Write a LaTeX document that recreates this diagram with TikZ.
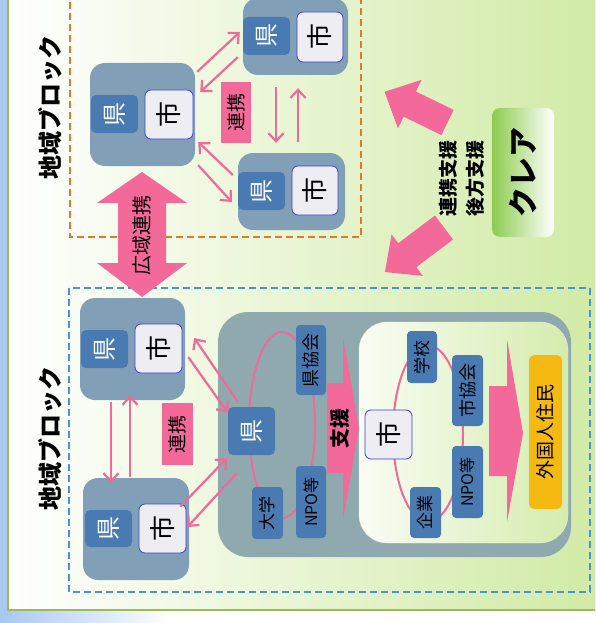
\documentclass[tikz,border=0pt]{standalone}
\usepackage{fontspec}
\usepackage{graphicx}
\newfontfamily\jp{Noto Sans CJK JP}
\usetikzlibrary{arrows.meta, shapes}
\definecolor{groupc}{HTML}{819FB7}
\definecolor{prefc}{HTML}{4A7AB2}
\definecolor{cityc}{HTML}{EDEDF2}
\definecolor{cityb}{HTML}{3F3FD8}
\definecolor{pinkc}{HTML}{F2699A}
\definecolor{linkc}{HTML}{F06A98}
\definecolor{bigg}{HTML}{8FA9AE}
\definecolor{orangec}{HTML}{E07A28}
\definecolor{bluec}{HTML}{4894DC}
\definecolor{residc}{HTML}{F5BA12}
\definecolor{panelg}{HTML}{D0EAA4}
\definecolor{frameg}{HTML}{9CBB58}
\definecolor{stripb}{HTML}{A8C8F0}
\definecolor{clairg}{HTML}{8DCB4F}
\newcommand{\vt}[1]{\rotatebox{90}{#1}}
\tikzset{
	every node/.style={inner sep=0pt,font=\jp},
	group/.style={shape=rectangle,fill=groupc,rounded corners=15pt},
	pref/.style={shape=rectangle,fill=prefc,rounded corners=5pt,text=white,font=\jp\fontsize{24}{24}\selectfont},
	city/.style={shape=rectangle,fill=cityc,draw=cityb,line width=0.8pt,rounded corners=6pt,font=\jp\fontsize{26}{26}\selectfont},
	tag/.style={shape=rectangle,fill=prefc,rounded corners=4pt,font=\jp\fontsize{17}{17}\selectfont},
	renkei/.style={shape=rectangle,fill=pinkc,minimum width=31pt,minimum height=62pt,font=\jp\fontsize{19}{19}\selectfont},
	blocklabel/.style={font=\jp\bfseries\fontsize{24}{24}\selectfont},
	ring/.style={draw=linkc,line width=2pt},
	fat/.style={fill=pinkc},
	blockline/.style={dash pattern=on 7pt off 4pt,line width=1.8pt},
}
\tikzstyle{link} = [draw=linkc,line width=2.2pt,-{Straight Barb[length=8pt,width=15pt]}]

\begin{document}
\begin{tikzpicture}[x=1pt,y=-1pt]
	\useasboundingbox (0,0) rectangle (595,623);
	\clip (0,0) rectangle (595,623);
	% background
	\fill[white] (0,0) rectangle (595,623);
	\shade[left color=stripb,right color=white] (0,600) rectangle (170,623);
	\fill[stripb] (0,0) rectangle (10,615);
	\shade[left color=white,right color=panelg,draw=frameg,line width=2pt] (8,-10) rectangle (610,610);
	\draw[blockline,draw=orangec] (70,-20) rectangle (361,237);
	\draw[blockline,draw=bluec] (69,288) rectangle (590,592);
	\node[blocklabel] (titleA) at (50,107) {\vt{地域ブロック}};
	\node[blocklabel] (titleB) at (50,438) {\vt{地域ブロック}};
	
	% upper block
	\node[group,minimum width=105pt,minimum height=103pt] (gA) at (142.5,114.5) {};
	\node[pref,minimum width=47pt,minimum height=38pt] (kA) at (114.5,114) {\vt{県}};
	\node[city,minimum width=48pt,minimum height=49pt] (cA) at (169,114.5) {\vt{市}};
	\node[group,minimum width=105pt,minimum height=77pt] (gB) at (295.5,36.5) {};
	\node[pref,minimum width=47pt,minimum height=38pt] (kB) at (266.5,36) {\vt{県}};
	\node[city,minimum width=46pt,minimum height=50pt] (cB) at (320,37) {\vt{市}};
	\node[group,minimum width=107pt,minimum height=77pt] (gC) at (291.5,191.5) {};
	\node[pref,minimum width=47pt,minimum height=38pt] (kC) at (261.5,191) {\vt{県}};
	\node[city,minimum width=46pt,minimum height=49pt] (cC) at (315,190.5) {\vt{市}};
	\node[renkei,minimum width=30pt,minimum height=61pt] (linkA) at (236,112.5) {\vt{連携}};
	
	\draw[link] ([shift={(2,9)}]gA.north east) -- ([shift={(-3,-4)}]kB.west);
	\draw[link] ([shift={(-5,-18)}]gB.south west) -- ([shift={(5,-22.5)}]gA.east);
	\draw[link] ([shift={(-5,-16)}]kC.west) -- ([shift={(3,27.5)}]gA.east);
	\draw[link] ([shift={(3,-1)}]gA.south east) -- ([shift={(-6,11)}]kC.west);
	\draw[link] ([shift={(-19.5,12)}]gB.south) -- ([shift={(-15.5,-10)}]gC.north);
	\draw[link] ([shift={(6.5,-11)}]gC.north) -- ([shift={(2.5,13)}]gB.south);
	
	% wide area arrow
	\fill[fat] (142,172) -- (187,203) -- (166,203) -- (166,263) -- (187,263) -- (142,297)
		-- (97,263) -- (118,263) -- (118,203) -- (97,203) -- cycle;
	\node[font=\jp\fontsize{20}{20}\selectfont] (wide) at (142,235) {\vt{広域連携}};
	
	% clair
	\begin{scope}[shift={(447.5,122.5)},rotate=154]
		\fill[fat] (0,-14) -- (42,-14) -- (42,-27) -- (70,0) -- (42,27) -- (42,14) -- (0,14) -- cycle;
	\end{scope}
	\begin{scope}[shift={(444,227.5)},rotate=217]
		\fill[fat] (0,-15) -- (46,-15) -- (46,-26) -- (74,0) -- (46,26) -- (46,15) -- (0,15) -- cycle;
	\end{scope}
	\node[font=\jp\bfseries\fontsize{19}{27}\selectfont] (assist) at (463.5,178)
		{\vt{\begin{tabular}{@{}c@{}}連携支援\\後方支援\end{tabular}}};
	\node[shape=rectangle,rounded corners=8pt,left color=clairg,right color=white,
		minimum width=62pt,minimum height=129pt,font=\jp\bfseries\fontsize{30}{30}\selectfont] (clair) at (523,172.5) {\vt{クレア}};
	
	% lower block
	\node[group,minimum width=105pt,minimum height=102pt] (gD) at (132.5,349) {};
	\node[pref,minimum width=47pt,minimum height=38pt] (kD) at (104.5,349) {\vt{県}};
	\node[city,minimum width=47pt,minimum height=49pt] (cD) at (158.5,348.5) {\vt{市}};
	\node[group,minimum width=106pt,minimum height=102pt] (gE) at (136,529) {};
	\node[pref,minimum width=47pt,minimum height=37pt] (kE) at (108.5,528.5) {\vt{県}};
	\node[city,minimum width=47pt,minimum height=49pt] (cE) at (162.5,528.5) {\vt{市}};
	\node[renkei] (linkB) at (177.5,434) {\vt{連携}};
	
	\node[shape=rectangle,fill=bigg,rounded corners=30pt,minimum width=353pt,minimum height=245pt] (gF) at (394.5,434.5) {};
	\node[shape=rectangle,draw=panelg!80!black!30,left color=white!70!panelg!40,right color=panelg!90,
		rounded corners=28pt,minimum width=209pt,minimum height=221pt] (gG) at (463.5,432.5) {};
	\draw[ring] (282,425) ellipse [x radius=33pt,y radius=93pt];
	\draw[ring] (428,433.5) ellipse [x radius=35pt,y radius=88pt];
	\fill[fat] (327,383) -- (343,383) -- (343,337) -- (359,428) -- (343,520) -- (343,473) -- (327,473) -- cycle;
	\fill[fat] (489,386) -- (507,386) -- (507,339) -- (523,433) -- (507,522) -- (507,476) -- (489,476) -- cycle;
	\node[font=\jp\bfseries\fontsize{20}{20}\selectfont] (support) at (340,428) {\vt{支援}};
	
	\node[pref,minimum width=47pt,minimum height=48pt] (kF) at (251.5,431) {\vt{県}};
	\node[tag,minimum width=30pt,minimum height=70pt,font=\jp\fontsize{18}{18}\selectfont] (assocP) at (311,360) {\vt{県協会}};
	\node[tag,minimum width=30pt,minimum height=72pt,font=\jp\fontsize{16}{16}\selectfont] (npoP) at (311,502) {\vt{NPO等}};
	\node[tag,minimum width=31pt,minimum height=52pt] (univ) at (267.5,513) {\vt{大学}};
	\node[city,minimum width=47pt,minimum height=49pt] (cG) at (388.5,434.5) {\vt{市}};
	\node[tag,minimum width=30pt,minimum height=52pt] (school) at (422,357) {\vt{学校}};
	\node[tag,minimum width=31pt,minimum height=71pt,font=\jp\fontsize{18}{18}\selectfont] (assocC) at (467.5,390.5) {\vt{市協会}};
	\node[tag,minimum width=31pt,minimum height=72pt,font=\jp\fontsize{16}{16}\selectfont] (npoC) at (467.5,482) {\vt{NPO等}};
	\node[tag,minimum width=31pt,minimum height=51pt] (firm) at (425.5,512.5) {\vt{企業}};
	\node[shape=rectangle,fill=residc,rounded corners=5pt,minimum width=33pt,minimum height=154pt,
		font=\jp\fontsize{19}{19}\selectfont] (resid) at (545.5,432) {\vt{外国人住民}};
	
	\draw[link] ([shift={(-21.5,2)}]gD.south) -- ([shift={(-25,5)}]gE.north);
	\draw[link] ([shift={(-6,-1)}]gE.north) -- ([shift={(-2.5,-5)}]gD.south);
	\draw[link] ([shift={(3,8)}]gD.east) -- ([shift={(0,6)}]kF.north west);
	\draw[link] ([shift={(10,-5)}]kF.north west) -- ([shift={(9,-11)}]gD.east);
	\draw[link] ([shift={(-6,3)}]cE.north east) -- ([shift={(-1,3)}]kF.south west);
	\draw[link] ([shift={(9,18)}]kF.south west) -- ([shift={(1,-1.5)}]cE.east);
\end{tikzpicture}
\end{document}
